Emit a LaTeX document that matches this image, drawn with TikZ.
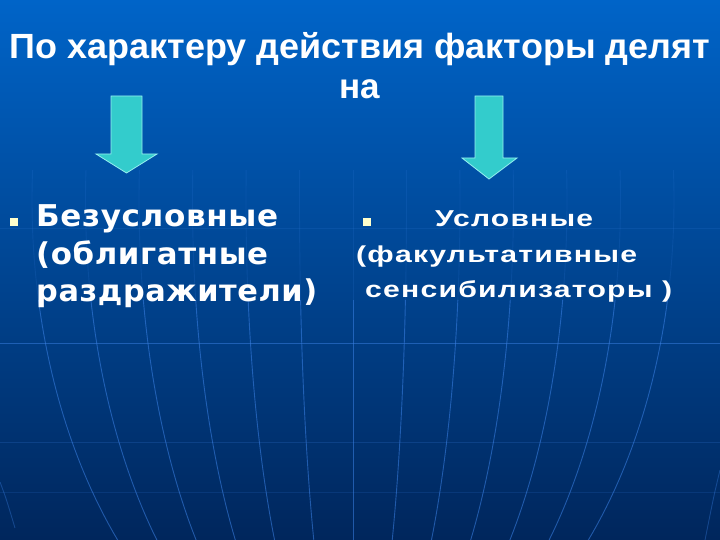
\documentclass[tikz,border=0pt]{standalone}
\usepackage{fontspec}
\usepackage{graphicx}
\setmainfont{Liberation Sans}
\newfontfamily\vfont[LetterSpace=2]{DejaVu Sans}
\newfontfamily\rfont[LetterSpace=4]{Liberation Sans}
\definecolor{bgtop}{RGB}{0,100,200}
\definecolor{bgmid}{RGB}{0,80,165}
\definecolor{bgbot}{RGB}{0,38,92}
\definecolor{arrowc}{RGB}{51,204,204}
\definecolor{arrowedge}{RGB}{150,240,240}
\definecolor{bulletc}{RGB}{255,255,204}
\definecolor{gridc}{RGB}{60,130,230}

\newcommand\ttlA{\resizebox{700pt}{\height}{По характеру действия факторы делят}}
\newcommand\ttlB{на}
\newcommand\lA{\resizebox{242pt}{\height}{Безусловные}}
\newcommand\lB{\resizebox{232pt}{\height}{(облигатные}}
\newcommand\lC{\resizebox{281pt}{\height}{раздражители)}}
\newcommand\rA{\resizebox{158pt}{\height}{Условные}}
\newcommand\rB{\resizebox{281pt}{\height}{(факультативные}}
\newcommand\rC{\resizebox{307pt}{\height}{сенсибилизаторы )}}

\tikzset{
 ttl/.style={inner sep=0pt, anchor=base, text=white, font=\fontsize{35}{40}\selectfont\bfseries},
 ltxt/.style={inner sep=0pt, anchor=base west, text=white, font=\vfont\fontsize{30}{36}\selectfont\bfseries},
 rtxt/.style={inner sep=0pt, anchor=base west, text=white, font=\rfont\fontsize{23}{27}\selectfont\bfseries},
 bigarrow/.style={fill=arrowc, draw=arrowedge, line width=0.8pt, line join=miter},
 bulletbox/.style={fill=bulletc},
 meridian/.style={draw=gridc, line width=0.9pt},
 latline/.style={draw=gridc, line width=0.8pt},
}

\begin{document}
\begin{tikzpicture}[x=1pt,y=-1pt]
\useasboundingbox (0,0) rectangle (720,540);
\begin{scope}[y=1pt]
\shade[top color=bgtop, middle color=bgmid, bottom color=bgbot] (0,-540) rectangle (720,0);
\end{scope}

% globe grid
\foreach \s in {-1,1}{
 \foreach \k in {1,...,6}{
  \draw[meridian, opacity=0.15] plot[domain=170:300, samples=20, variable=\t]
    ({353+\s*53.5*\k*sqrt(1-((\t-200)/500)^2)}, \t);
  \draw[meridian, opacity=0.55] plot[domain=300:540, samples=30, variable=\t]
    ({353+\s*53.5*\k*sqrt(1-((\t-200)/500)^2)}, \t);
 }
}
\draw[meridian, opacity=0.15] (353,170) -- (353,300);
\draw[meridian, opacity=0.55] (353,300) -- (353,540);
\draw[meridian, opacity=0.35] (720,470) .. controls (714,495) .. (705,540);
\draw[meridian, opacity=0.35] (0,482) .. controls (6,498) .. (15,528);
\draw[latline, opacity=0.15] (0,228) -- (720,228);
\draw[latline, opacity=0.5] (0,343) -- (720,343);
\draw[latline, opacity=0.2] (0,442) -- (720,442);
\draw[latline, opacity=0.15] (0,492) -- (720,492);

% title
\node[ttl] (t1) at (360,59) {\ttlA};
\node[ttl] (t2) at (360,99) {\ttlB};

% arrows
\fill[bigarrow] (111,96) -- (142,96) -- (142,154) -- (157,154) -- (126.5,173) -- (96,154) -- (111,154) -- cycle;
\fill[bigarrow] (475,96) -- (503,96) -- (503,158) -- (517,158) -- (489,179) -- (462,158) -- (475,158) -- cycle;

% bullets
\fill[bulletbox] (10,218) rectangle (18,226);
\fill[bulletbox] (363,218) rectangle (371,226);

% left text
\node[ltxt] (l1) at (36,227) {\lA};
\node[ltxt] (l2) at (36,264) {\lB};
\node[ltxt] (l3) at (36,301) {\lC};

% right text
\node[rtxt] (r1) at (435,227) {\rA};
\node[rtxt] (r2) at (356,262) {\rB};
\node[rtxt] (r3) at (365,297) {\rC};
\end{tikzpicture}
\end{document}
